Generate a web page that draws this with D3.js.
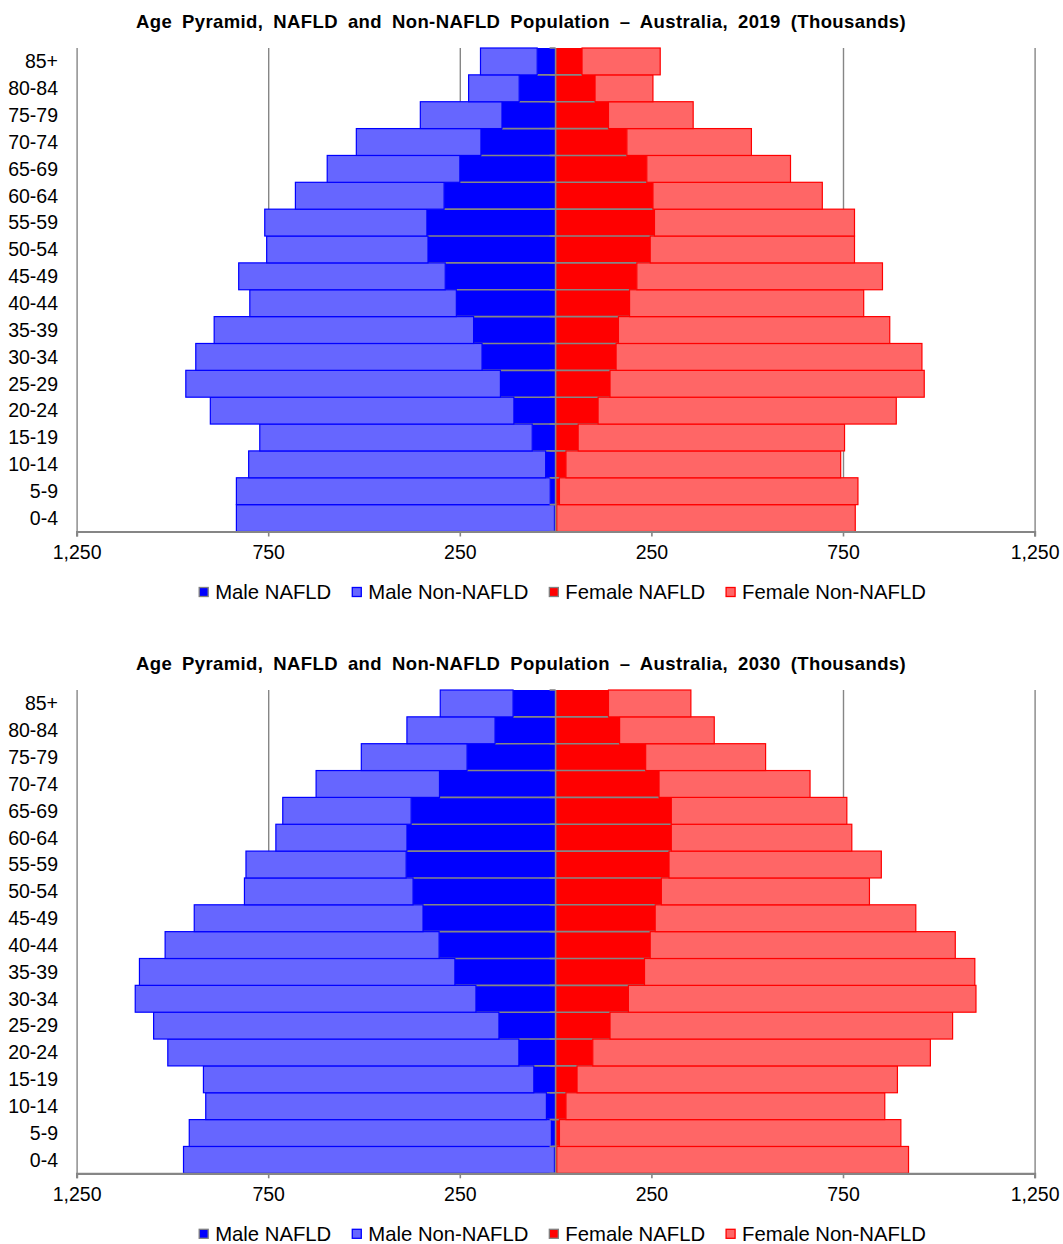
<!DOCTYPE html>
<html>
<head>
<meta charset="utf-8">
<script src="https://cdn.jsdelivr.net/npm/d3@7"></script>
<style>
  body { margin: 0; background: #fff; }
  svg { display: block; font-family: "Liberation Sans", Arial, sans-serif; }
</style>
</head>
<body>
<svg id="chart" width="1063" height="1244"></svg>
<script>
// ---------- DATA (thousands) ----------
const ageGroups = ["0-4","5-9","10-14","15-19","20-24","25-29","30-34","35-39","40-44","45-49","50-54","55-59","60-64","65-69","70-74","75-79","80-84","85+"];
const tickValues = [-1250, -750, -250, 250, 750, 1250];
const seriesNames = ["Male NAFLD", "Male Non-NAFLD", "Female NAFLD", "Female Non-NAFLD"];

const male2019Nafld      = [3, 14, 26, 61, 109, 144, 192, 214, 259, 288, 333, 336, 291, 250, 195, 140, 95, 48];
const male2019NonNafld   = [830, 819, 775, 711, 792, 821, 747, 677, 539, 539, 421, 423, 388, 346, 325, 213, 132, 148];
const female2019Nafld    = [3, 10, 27, 59, 111, 142, 158, 164, 193, 212, 247, 258, 254, 238, 186, 138, 103, 69];
const female2019NonNafld = [779, 779, 717, 695, 778, 820, 798, 708, 611, 641, 533, 522, 442, 375, 325, 221, 151, 204];

const male2030Nafld      = [3, 11, 24, 57, 96, 148, 208, 263, 304, 346, 372, 390, 388, 377, 303, 231, 158, 111];
const male2030NonNafld   = [968, 945, 889, 862, 916, 901, 889, 823, 715, 597, 440, 418, 342, 335, 322, 276, 230, 190];
const female2030Nafld    = [3, 10, 27, 56, 97, 142, 190, 232, 247, 260, 276, 296, 302, 302, 270, 235, 167, 138];
const female2030NonNafld = [918, 891, 832, 836, 881, 894, 907, 862, 796, 680, 543, 554, 471, 458, 394, 313, 247, 215];

const charts = [
  { title: "Age Pyramid, NAFLD and Non-NAFLD Population \u2013 Australia, 2019 (Thousands)",
    mN: male2019Nafld, mO: male2019NonNafld, fN: female2019Nafld, fO: female2019NonNafld, top: 48, bottom: 531.5, titleY: 28 },
  { title: "Age Pyramid, NAFLD and Non-NAFLD Population \u2013 Australia, 2030 (Thousands)",
    mN: male2030Nafld, mO: male2030NonNafld, fN: female2030Nafld, fO: female2030NonNafld, top: 690, bottom: 1173.3, titleY: 670 }
];

// ---------- STYLE ----------
const colors = { mN: "#0000FF", mO: "#6666FF", fN: "#FF0000", fO: "#FF6666" };
const strokes = { mN: "#808080", mO: "#0000FF", fN: "#808080", fO: "#FF0000" };
const gray = "#868686";

const svg = d3.select("#chart");
const x = d3.scaleLinear().domain([-1250, 1250]).range([76.6, 1034.6]);
const x0 = x(0);

charts.forEach(c => {
  const g = svg.append("g");
  const y = d3.scaleBand().domain(ageGroups.slice().reverse()).range([c.top, c.bottom]).padding(0);
  const h = c.bottom - c.top;

  // title
  g.append("text").attr("x", 521).attr("y", c.titleY).attr("text-anchor", "middle")
    .attr("font-weight", "bold").attr("font-size", 18.5).attr("letter-spacing", 0.4)
    .attr("word-spacing", 4.4).text(c.title);

  // gridlines
  g.append("g").attr("transform", `translate(0,${c.bottom})`)
    .call(d3.axisBottom(x).tickValues(tickValues).tickSize(-h).tickFormat(""))
    .call(s => s.select(".domain").remove())
    .call(s => s.selectAll("line").attr("stroke", gray).attr("stroke-width", 1.4));

  const rows = ageGroups.map((a, i) => ({ a, mN: c.mN[i], mO: c.mO[i], fN: c.fN[i], fO: c.fO[i] }));

  // NAFLD bars
  g.selectAll(".mN").data(rows).join("rect")
    .attr("x", d => x(-d.mN)).attr("width", d => x0 - x(-d.mN))
    .attr("y", d => y(d.a)).attr("height", y.bandwidth()).attr("fill", colors.mN);
  g.selectAll(".fN").data(rows).join("rect")
    .attr("x", x0).attr("width", d => x(d.fN) - x0)
    .attr("y", d => y(d.a)).attr("height", y.bandwidth()).attr("fill", colors.fN);
  // gray border line at the bottom of NAFLD bars
  g.selectAll(".nl").data(rows).join("line")
    .attr("x1", d => x(-d.mN)).attr("x2", d => x(d.fN))
    .attr("y1", d => y(d.a) + y.bandwidth()).attr("y2", d => y(d.a) + y.bandwidth())
    .attr("stroke", gray).attr("stroke-width", 1.6);

  // Non-NAFLD bars stacked outward
  g.selectAll(".mO").data(rows).join("rect")
    .attr("x", d => x(-(d.mN + d.mO))).attr("width", d => x(-d.mN) - x(-(d.mN + d.mO)))
    .attr("y", d => y(d.a)).attr("height", y.bandwidth())
    .attr("fill", colors.mO).attr("stroke", strokes.mO).attr("stroke-width", 1.2);
  g.selectAll(".fO").data(rows).join("rect")
    .attr("x", d => x(d.fN)).attr("width", d => x(d.fN + d.fO) - x(d.fN))
    .attr("y", d => y(d.a)).attr("height", y.bandwidth())
    .attr("fill", colors.fO).attr("stroke", strokes.fO).attr("stroke-width", 1.2);

  // center (category) axis line with boundary ticks
  g.append("line").attr("x1", x0).attr("x2", x0).attr("y1", c.top).attr("y2", c.bottom)
    .attr("stroke", gray).attr("stroke-width", 1.6);
  const bounds = ageGroups.map(a => y(a)).concat([c.bottom]);
  g.selectAll(".yt").data(bounds).join("line")
    .attr("x1", x0 - 6).attr("x2", x0).attr("y1", d => d).attr("y2", d => d)
    .attr("stroke", gray).attr("stroke-width", 1.6);

  // category labels
  g.selectAll(".cat").data(ageGroups).join("text")
    .attr("x", 58).attr("y", d => y(d) + y.bandwidth() / 2).attr("dy", "0.35em")
    .attr("text-anchor", "end").attr("font-size", 19.5).attr("fill", "#000").text(d => d);

  // value axis
  g.append("g").attr("transform", `translate(0,${c.bottom})`)
    .call(d3.axisBottom(x).tickValues(tickValues).tickSize(5).tickPadding(9)
      .tickFormat(d => d3.format(",")(Math.abs(d))))
    .call(s => s.select(".domain").attr("stroke", gray).attr("stroke-width", 2.2))
    .call(s => s.selectAll("line").attr("stroke", gray).attr("stroke-width", 1.6))
    .call(s => s.selectAll("text").attr("font-size", 19.5).attr("fill", "#000")
      .attr("font-family", "Liberation Sans, Arial, sans-serif"));

  // legend
  const lg = g.append("g");
  const keys = ["mN", "mO", "fN", "fO"];
  let cx = 0;
  keys.forEach((k, i) => {
    const it = lg.append("g");
    it.append("rect").attr("x", 0).attr("y", -4.5).attr("width", 9).attr("height", 9)
      .attr("fill", colors[k]).attr("stroke", strokes[k]).attr("stroke-width", 1.3);
    const t = it.append("text").attr("x", 16).attr("y", 0).attr("dy", "0.35em")
      .attr("font-size", 20.3).text(seriesNames[i]);
    const w = 16 + t.node().getComputedTextLength();
    it.attr("transform", `translate(${cx},0)`);
    cx += w + 21;
  });
  const total = cx - 21;
  lg.attr("transform", `translate(${562.5 - total / 2},${c.bottom + 60.5})`);
});
</script>
</body>
</html>
